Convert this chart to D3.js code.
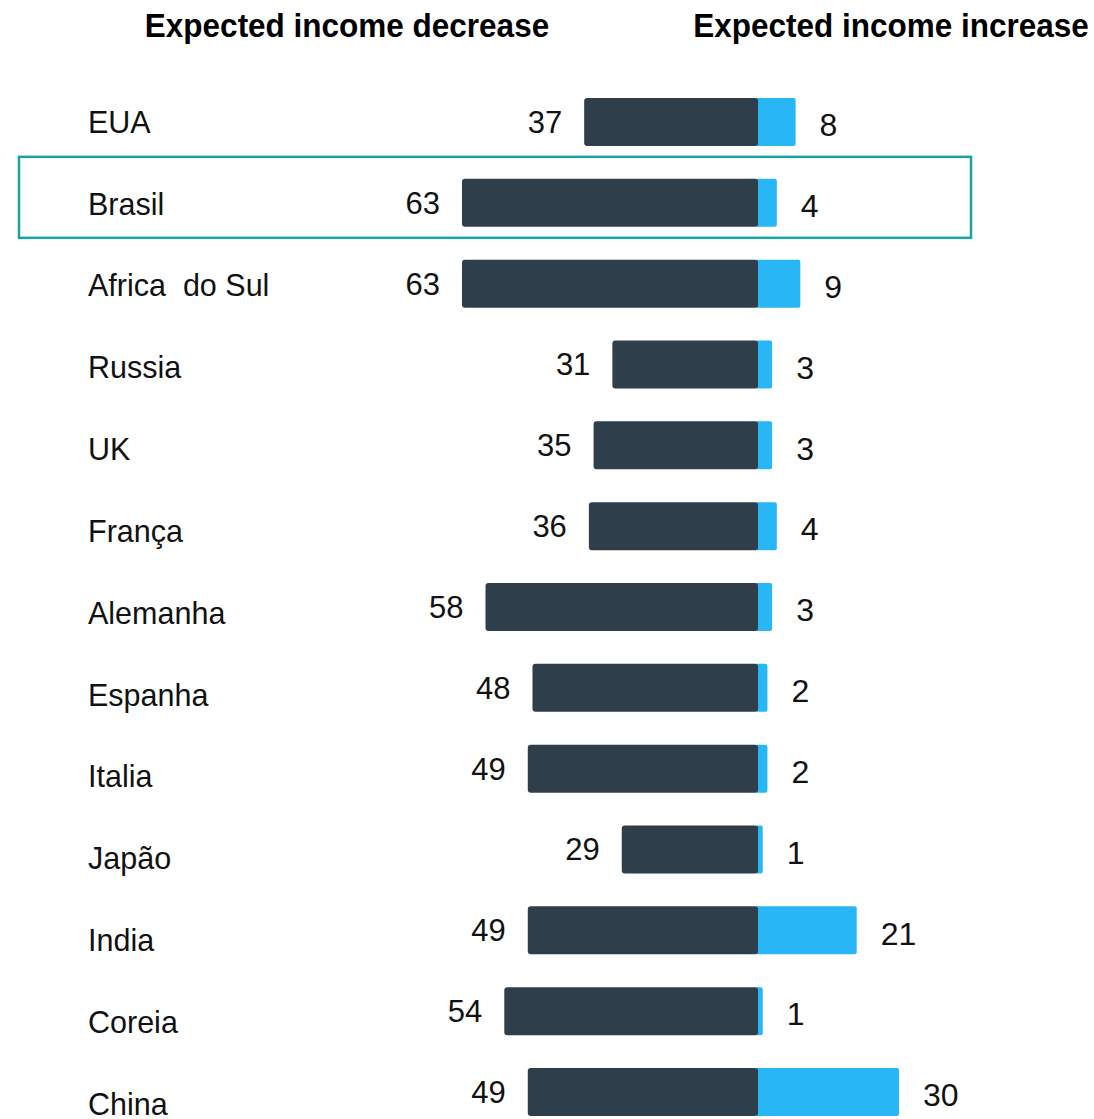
<!DOCTYPE html>
<html>
<head>
<meta charset="utf-8">
<script src="https://cdn.jsdelivr.net/npm/d3@7"></script>
<style>
  body { margin: 0; background: #fff; }
  text { font-family: "Liberation Sans", Arial, sans-serif; }
</style>
</head>
<body>
<svg width="1094" height="1119"></svg>
<script>
let countries = ["EUA", "Brasil", "Africa  do Sul", "Russia", "UK", "França", "Alemanha",
                 "Espanha", "Italia", "Japão", "India", "Coreia", "China"];
let decrease = [37, 63, 63, 31, 35, 36, 58, 48, 49, 29, 49, 54, 49];
let increase = [8, 4, 9, 3, 3, 4, 3, 2, 2, 1, 21, 1, 30];
let titles = ["Expected income decrease", "Expected income increase"];
let highlight = "Brasil";

let svg = d3.select("svg"),
    width = +svg.attr("width"),
    height = +svg.attr("height");

let rows = countries.map((c, i) => ({name: c, dec: decrease[i], inc: increase[i]}));

let x = d3.scaleLinear()
    .domain([-63, 30])
    .range([462, 899]);

let y = d3.scalePoint()
    .domain(countries)
    .range([122, 1092]);

// the row labels sit a little lower as the list goes down
let yLabel = d3.scalePoint()
    .domain(countries)
    .range([122, 1104]);

let barH = 48;

svg.append("g")
    .selectAll("text")
    .data(titles).enter().append("text")
        .attr("transform", (d, i) => `translate(${i == 0 ? 347 : 891},37) scale(1,1.07)`)
        .attr("text-anchor", "middle")
        .attr("font-size", "31.5px")
        .attr("font-weight", "bold")
        .attr("fill", "#000")
        .text(d => d);

svg.append("rect")
    .attr("x", 19)
    .attr("y", y(highlight) - 46)
    .attr("width", 952)
    .attr("height", 81)
    .attr("fill", "none")
    .attr("stroke", "#19a3a6")
    .attr("stroke-width", 2.5);

svg.append("g")
    .selectAll("text")
    .data(rows).enter().append("text")
        .attr("x", 88)
        .attr("y", d => yLabel(d.name))
        .attr("dy", "0.35em")
        .attr("font-size", "30.5px")
        .attr("fill", "#111")
        .style("white-space", "pre")
        .text(d => d.name);

let bars = svg.append("g");

bars.selectAll(".inc")
    .data(rows).enter().append("rect")
        .attr("class", "inc")
        .attr("x", x(0) - 3)
        .attr("y", d => y(d.name) - barH / 2)
        .attr("width", d => x(d.inc) - x(0) + 3)
        .attr("height", barH)
        .attr("rx", 2)
        .attr("fill", "#29b6f6");

bars.selectAll(".dec")
    .data(rows).enter().append("rect")
        .attr("class", "dec")
        .attr("x", d => x(-d.dec))
        .attr("y", d => y(d.name) - barH / 2)
        .attr("width", d => x(0) - x(-d.dec))
        .attr("height", barH)
        .attr("rx", 3)
        .attr("fill", "#2e3e4b");

svg.append("g")
    .selectAll("text")
    .data(rows).enter().append("text")
        .attr("x", d => x(-d.dec) - 22)
        .attr("y", d => y(d.name))
        .attr("dy", "0.35em")
        .attr("text-anchor", "end")
        .attr("font-size", "31px")
        .attr("fill", "#111")
        .text(d => d.dec);

svg.append("g")
    .selectAll("text")
    .data(rows).enter().append("text")
        .attr("x", d => x(d.inc) + 24)
        .attr("y", d => y(d.name) + 3)
        .attr("dy", "0.35em")
        .attr("font-size", "32px")
        .attr("fill", "#111")
        .text(d => d.inc);
</script>
</body>
</html>
